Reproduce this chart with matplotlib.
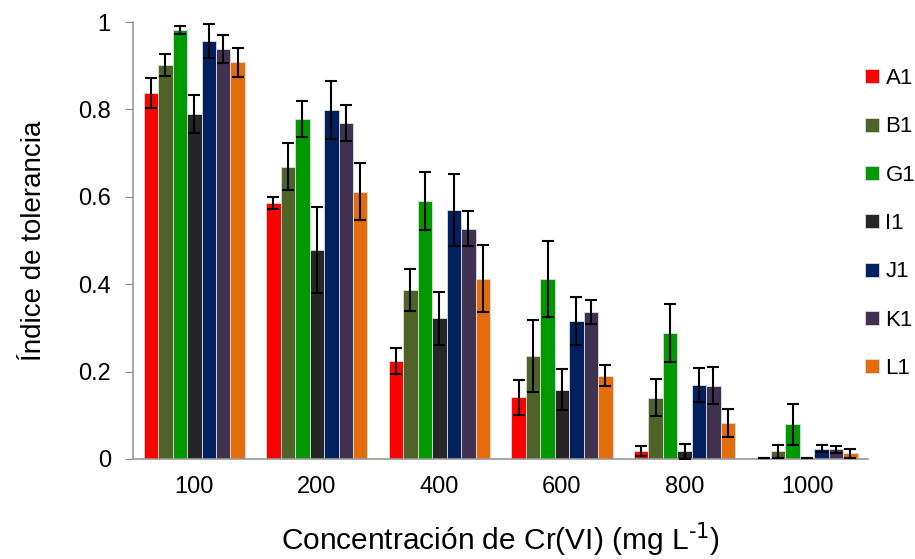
import numpy as np
import matplotlib
matplotlib.use('Agg')
import matplotlib.pyplot as plt
from matplotlib.ticker import FuncFormatter

plt.rcParams['font.family'] = ['Liberation Sans', 'DejaVu Sans']
plt.rcParams['mathtext.default'] = 'regular'

# ─────────────────────────────────────────────
# Datos
# ─────────────────────────────────────────────
concentrations = ['100', '200', '400', '600', '800', '1000']
strains = ['A1', 'B1', 'G1', 'I1', 'J1', 'K1', 'L1']

A1 = [0.837, 0.586, 0.224, 0.141, 0.018, 0.003]
B1 = [0.901, 0.669, 0.387, 0.236, 0.140, 0.018]
G1 = [0.982, 0.778, 0.590, 0.413, 0.288, 0.079]
I1 = [0.790, 0.478, 0.322, 0.158, 0.018, 0.003]
J1 = [0.957, 0.798, 0.570, 0.316, 0.169, 0.024]
K1 = [0.938, 0.768, 0.527, 0.336, 0.168, 0.022]
L1 = [0.908, 0.612, 0.413, 0.191, 0.082, 0.013]

A1_err = [0.034, 0.014, 0.030, 0.040, 0.011, 0.000]
B1_err = [0.025, 0.054, 0.048, 0.083, 0.042, 0.015]
G1_err = [0.009, 0.042, 0.067, 0.087, 0.066, 0.047]
I1_err = [0.043, 0.098, 0.060, 0.047, 0.017, 0.000]
J1_err = [0.039, 0.066, 0.082, 0.055, 0.039, 0.008]
K1_err = [0.032, 0.041, 0.040, 0.027, 0.042, 0.008]
L1_err = [0.033, 0.066, 0.076, 0.023, 0.032, 0.011]

values = [A1, B1, G1, I1, J1, K1, L1]
errors = [A1_err, B1_err, G1_err, I1_err, J1_err, K1_err, L1_err]

colors = ['#FF0000', '#4F6228', '#009900', '#262626', '#002060', '#403151', '#E46C0A']

# ─────────────────────────────────────────────
# Figura
# ─────────────────────────────────────────────
fig = plt.figure(figsize=(9.15, 5.59), dpi=100)
ax = fig.add_axes([0.1454, 0.1789, 0.8036, 0.7817])

x = np.arange(len(concentrations))
width = 0.118

for i, (name, vals, errs, c) in enumerate(zip(strains, values, errors, colors)):
    pos = x + (i - 3) * width
    ax.bar(pos, vals, width, color=c, edgecolor='#DDDDDD', linewidth=0.6,
           label=name, zorder=2)
    ax.errorbar(pos, vals, yerr=errs, fmt='none', ecolor='black',
                elinewidth=1.5, capsize=4, capthick=1.5, zorder=3)

ax.set_xlim(-0.5, 5.5)
ax.set_ylim(0, 1)
ax.set_yticks([0, 0.2, 0.4, 0.6, 0.8, 1.0])
ax.yaxis.set_major_formatter(FuncFormatter(lambda v, p: f'{v:g}'))
ax.set_xticks(x)
ax.set_xticklabels(concentrations)

ax.tick_params(axis='y', direction='out', length=6, color='#888888',
               labelsize=17, pad=10)
ax.tick_params(axis='x', length=0, labelsize=17, pad=12)

for s in ['top', 'right']:
    ax.spines[s].set_visible(False)
for s in ['left', 'bottom']:
    ax.spines[s].set_color('#999999')
    ax.spines[s].set_linewidth(1.2)

ax.set_ylabel('Índice de tolerancia', fontsize=20, labelpad=22)
ax.set_xlabel(r'Concentración de Cr(VI) (mg L$^{\text{-1}}$)', fontsize=21.5,
              labelpad=16)

ax.legend(loc='upper left', bbox_to_anchor=(0.981, 0.92), frameon=False,
          fontsize=16, handlelength=0.6, handleheight=0.6, handletextpad=0.3,
          labelspacing=1.23, borderpad=0)

fig.savefig('out.png', dpi=100, facecolor='white')
